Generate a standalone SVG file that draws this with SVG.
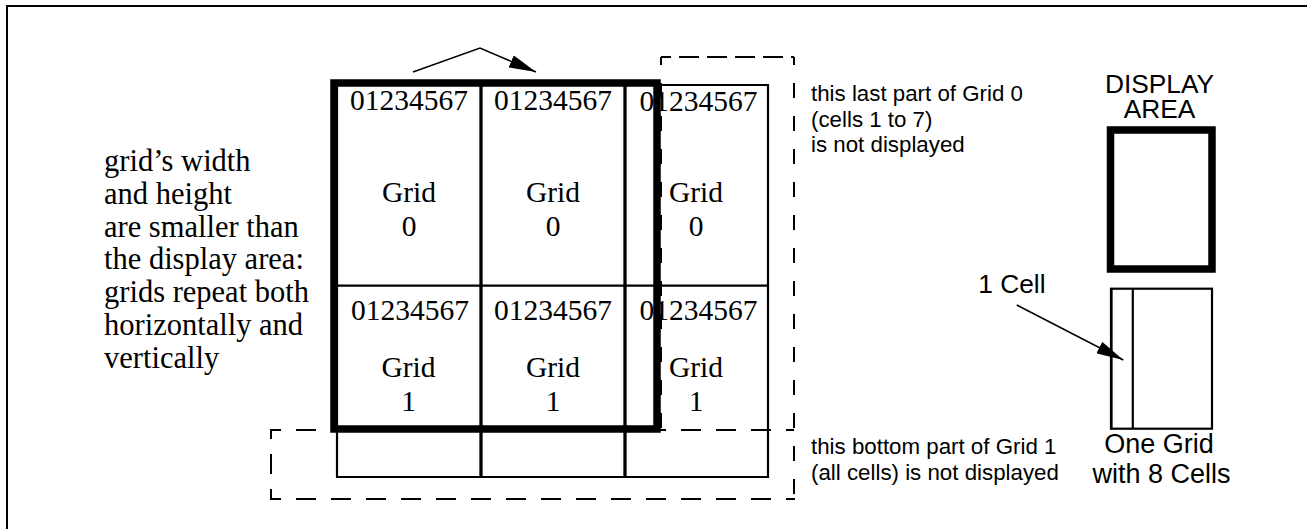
<svg xmlns="http://www.w3.org/2000/svg" width="1307" height="529" viewBox="0 0 1307 529">
<style>
.serif{font-family:"Liberation Serif","Times New Roman",serif;fill:#000}
.cell{font-size:29.5px;text-anchor:middle}
.left{font-size:30.5px}
.sans{font-family:"Liberation Sans",Arial,sans-serif;fill:#000}
.note{font-size:22.3px}
.big{font-size:26.3px}
.cap{font-size:27px;text-anchor:middle}
.thin{fill:none;stroke:#000;stroke-width:2.2}
.div{fill:none;stroke:#000;stroke-width:3.3}
.thick{fill:none;stroke:#000;stroke-width:7.5}
.dash{fill:none;stroke:#000;stroke-width:2}
.conn{fill:none;stroke:#000;stroke-width:1.5}
</style>
<defs>
<marker id="ah" viewBox="0 0 27 13" refX="27" refY="6.5" markerWidth="27" markerHeight="13" markerUnits="userSpaceOnUse" orient="auto">
<path d="M0,0 L27,6.5 L0,13 z" fill="#000"/>
</marker>
</defs>
<rect width="1307" height="529" fill="#fff"/>
<path id="frame" d="M7,529 V6 H1307" fill="none" stroke="#000" stroke-width="2"/>

<g id="left-note">
<text class="serif left" x="104" y="171">grid’s width</text>
<text class="serif left" x="104" y="204">and height</text>
<text class="serif left" x="104" y="236.5">are smaller than</text>
<text class="serif left" x="104" y="269">the display area:</text>
<text class="serif left" x="104" y="302">grids repeat both</text>
<text class="serif left" x="104" y="335">horizontally and</text>
<text class="serif left" x="104" y="368">vertically</text>
</g>

<g id="grid-lines">
<line class="thin" x1="337" y1="85" x2="768" y2="85"/>
<line class="thin" x1="337" y1="285.7" x2="768" y2="285.7"/>
<line class="thin" x1="337" y1="477" x2="768" y2="477"/>
<line class="thin" x1="337" y1="85" x2="337" y2="478"/>
<line class="div" x1="481" y1="85" x2="481" y2="478"/>
<line class="div" x1="625" y1="85" x2="625" y2="478"/>
<line class="thin" x1="768" y1="84" x2="768" y2="478"/>
</g>

<g id="grid0-col1">
<text class="serif cell" x="409" y="110">01234567</text>
<text class="serif cell" x="409" y="202">Grid</text>
<text class="serif cell" x="409" y="236">0</text>
</g>
<g id="grid0-col2">
<text class="serif cell" x="553" y="110">01234567</text>
<text class="serif cell" x="553" y="202">Grid</text>
<text class="serif cell" x="553" y="236">0</text>
</g>
<g id="grid0-col3">
<text class="serif cell" x="698.5" y="110.5">01234567</text>
<text class="serif cell" x="696" y="202">Grid</text>
<text class="serif cell" x="696" y="236">0</text>
</g>
<g id="grid1-col1">
<text class="serif cell" x="410" y="320">01234567</text>
<text class="serif cell" x="408.5" y="377">Grid</text>
<text class="serif cell" x="408.5" y="410.5">1</text>
</g>
<g id="grid1-col2">
<text class="serif cell" x="553" y="320">01234567</text>
<text class="serif cell" x="553" y="377">Grid</text>
<text class="serif cell" x="553" y="410.5">1</text>
</g>
<g id="grid1-col3">
<text class="serif cell" x="698.5" y="320">01234567</text>
<text class="serif cell" x="696" y="377">Grid</text>
<text class="serif cell" x="696" y="410.5">1</text>
</g>

<g id="hidden-right">
<line class="dash" x1="661" y1="57" x2="794" y2="57" stroke-dasharray="20 8" stroke-dashoffset="10"/>
<line class="dash" x1="661" y1="57" x2="661" y2="430" stroke-dasharray="15 18" stroke-dashoffset="7"/>
<line class="dash" x1="794" y1="57" x2="794" y2="499" stroke-dasharray="15 18" stroke-dashoffset="7"/>
</g>
<g id="hidden-bottom">
<line class="dash" x1="271" y1="430" x2="794" y2="430" stroke-dasharray="20 15" stroke-dashoffset="10"/>
<line class="dash" x1="271" y1="499" x2="795" y2="499" stroke-dasharray="20 15" stroke-dashoffset="10"/>
<line class="dash" x1="271" y1="429" x2="271" y2="500" stroke-dasharray="20 15" stroke-dashoffset="10"/>
</g>

<g id="display-window">
<rect class="thick" x="334" y="83" width="323" height="346"/>
</g>

<g id="note-right">
<text class="sans note" x="811" y="100.7">this last part of Grid 0</text>
<text class="sans note" x="811" y="126.5">(cells 1 to 7)</text>
<text class="sans note" x="811" y="151.7">is not displayed</text>
</g>
<g id="note-bottom">
<text class="sans note" x="811" y="454.3">this bottom part of Grid 1</text>
<text class="sans note" x="811" y="480">(all cells) is not displayed</text>
</g>

<g id="display-area">
<text class="sans big" x="1159.5" y="93.3" text-anchor="middle">DISPLAY</text>
<text class="sans big" x="1159.5" y="118.3" text-anchor="middle">AREA</text>
<rect class="thick" x="1110.5" y="130" width="101.5" height="139"/>
</g>

<g id="one-grid">
<rect class="thin" x="1111" y="288.7" width="101" height="140" stroke-width="2.5"/>
<line class="thin" x1="1111.5" y1="288" x2="1111.5" y2="429.5" stroke-width="4"/>
<line class="thin" x1="1132.8" y1="288.7" x2="1132.8" y2="428.7"/>
<text class="sans cap" x="1159" y="452.5">One Grid</text>
<text class="sans cap" x="1161.5" y="482.5">with 8 Cells</text>
</g>

<g id="cell-label">
<text class="sans big" x="978.3" y="293.3">1 Cell</text>
</g>

<g id="connectors">
<polyline class="conn" points="413,72 480,48 536,72" marker-end="url(#ah)"/>
<line class="conn" x1="1016.7" y1="305" x2="1123.3" y2="360" marker-end="url(#ah)"/>
</g>
</svg>
